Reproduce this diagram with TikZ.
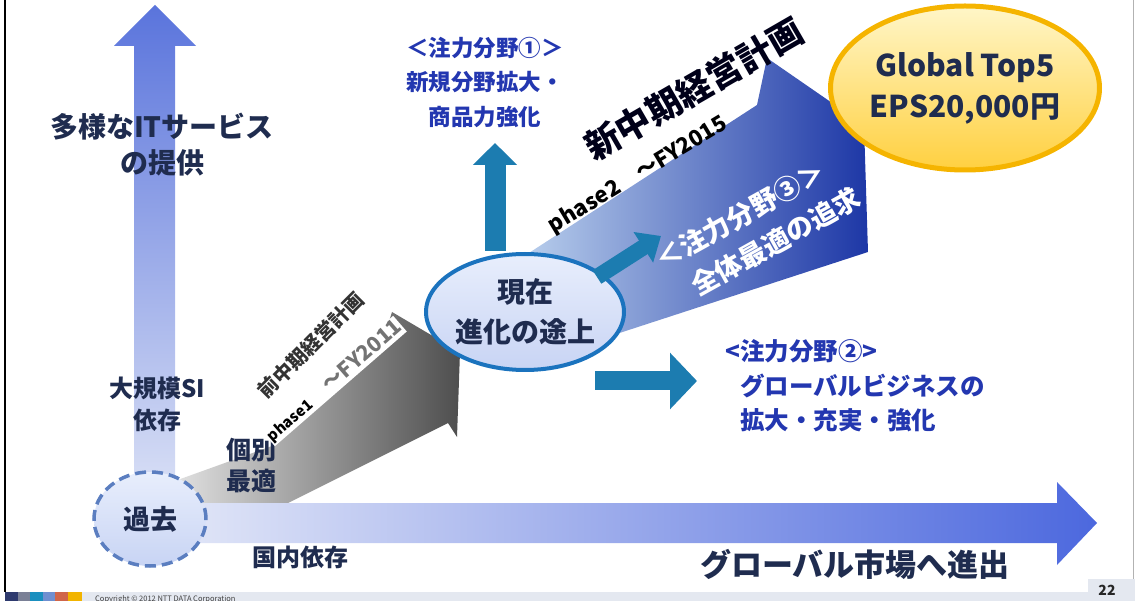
\documentclass[tikz,border=0pt]{standalone}
\usepackage{fontspec}
\setmainfont{Noto Sans CJK JP}
\usetikzlibrary{arrows.meta,shapes.geometric}
\definecolor{navy}{HTML}{1F2C4F}
\definecolor{fblue}{HTML}{2337B0}
\definecolor{tealc}{HTML}{1C7CB0}
\definecolor{vtop}{HTML}{5A74DC}
\definecolor{vbot}{HTML}{DDE3F6}
\definecolor{hL}{HTML}{E6EAF8}
\definecolor{hR}{HTML}{4C68DE}
\definecolor{gL}{HTML}{E2E2E2}
\definecolor{gM}{HTML}{A0A0A0}
\definecolor{gR}{HTML}{4E4E4E}
\definecolor{bL}{HTML}{BCD2EE}
\definecolor{bM}{HTML}{3B78C8}
\definecolor{bR}{HTML}{1D37A6}
\definecolor{pastb}{HTML}{5B7EC0}
\definecolor{nowb}{HTML}{1B73BE}
\definecolor{goldb}{HTML}{F5B400}
\definecolor{goldT}{HTML}{FFF6C8}
\definecolor{goldB}{HTML}{FFD040}
\definecolor{lightT}{HTML}{E8EEFC}
\definecolor{lightB}{HTML}{C8D4F4}
\definecolor{foot}{HTML}{E4E8F0}
\definecolor{sq1}{HTML}{2E3A6E}
\definecolor{sq2}{HTML}{7A8096}
\definecolor{sq3}{HTML}{1A8FBF}
\definecolor{sq4}{HTML}{6F8FD0}
\definecolor{sq5}{HTML}{D0664A}
\definecolor{sq6}{HTML}{F2B400}
\begin{document}
\begin{tikzpicture}[x=1pt,y=-1pt,
  txt/.style 2 args={font=\bfseries\fontsize{#1}{#2}\selectfont, inner sep=0pt, text=navy, align=center},
  tealarrow/.style={draw=tealc, line cap=butt}]
\useasboundingbox (0,0) rectangle (1135,601);

% frame lines
\draw[line width=2pt, black] (5,0) -- (5,592);
\draw[line width=0.8pt, black!30] (1133,0) -- (1133,579);

% footer
\fill[foot] (82,592) rectangle (1135,601);
\fill[foot] (1088,579) rectangle (1135,601);
\fill[sq1] (5,592) rectangle (18,601);
\fill[sq2] (18,592) rectangle (30,601);
\fill[sq3] (30,592) rectangle (43,601);
\fill[sq4] (43,592) rectangle (55,601);
\fill[sq5] (55,592) rectangle (68,601);
\fill[sq6] (68,592) rectangle (82,601);
\node[font=\fontsize{7.5}{8}\selectfont, text=black!75, anchor=west, inner sep=0pt] (copy) at (95,599) {Copyright © 2012 NTT DATA Corporation};
\node[txt={14}{14}, text=black!85] (pg) at (1107,590) {22};

% vertical axis arrow
\path[top color=vtop, bottom color=vbot] (134,510) -- (134,46) -- (114,46) -- (155,5) -- (196,46) -- (175,46) -- (175,510) -- cycle;

% phase 1 gray arrow
\path[left color=gL, middle color=gM, right color=gR] (172,482) -- (272,446) -- (382,344) -- (392,312) -- (460,352) -- (457,437) -- (448,423) -- (270,512) -- (172,512) -- cycle;

% phase 2 blue arrow
\path[left color=bL, middle color=bM, right color=bR] (515,262) -- (757,105) -- (767,58) -- (864,125) -- (868,252) -- (598,340) -- cycle;

% horizontal axis arrow
\path[left color=hL, right color=hR] (150,503) -- (1057,503) -- (1057,482) -- (1097,523) -- (1057,565) -- (1057,543) -- (150,543) -- cycle;

% ellipses
\node[ellipse, minimum width=112pt, minimum height=94pt, draw=pastb, line width=3.5pt, dash pattern=on 11pt off 6pt, top color=lightT, bottom color=lightB, txt={27}{27}] (past) at (150,519) {過去};
\node[ellipse, minimum width=156pt, minimum height=116pt, draw=nowb, line width=4pt, top color=lightT, bottom color=lightB, txt={28}{40}] (now) at (525,312) {現在\\進化の途上};
\node[ellipse, minimum width=218pt, minimum height=164pt, draw=goldb, line width=5pt, top color=goldT, bottom color=goldB, txt={30}{41}] (goal) at (965,88) {Global Top5\\EPS20,000円};

% teal arrows
\coordinate (u0) at (495,251);
\coordinate (u1) at (495,143);
\draw[tealarrow, line width=21pt, -{Triangle[length=22pt 0, width=43pt 0]}] (u0) -- (u1);
\coordinate (h0) at (595,381);
\coordinate (h1) at (697,381);
\draw[tealarrow, line width=19pt, -{Triangle[length=27pt 0, width=55pt 0]}] (h0) -- (h1);
\coordinate (d0) at (597,277);
\coordinate (d1) at (661,236);
\draw[tealarrow, line width=16pt, -{Triangle[length=21pt 0, width=35pt 0]}] (d0) -- (d1);

% texts
\node[txt={28}{36}] (svc) at (162,145) {多様なITサービス\\の提供};
\node[txt={24}{32}] (si) at (157,404) {大規模SI\\依存};
\node[txt={25}{31}] (indiv) at (251,466) {個別\\最適};
\node[txt={24}{24}] (dom) at (300,557) {国内依存};
\node[txt={31}{31}] (glob) at (855,564) {グローバル市場へ進出};

\node[txt={22.5}{34.5}, text=fblue] (f1) at (485,82) {＜注力分野①＞\\新規分野拡大・\\商品力強化};
\node[txt={24.5}{34.5}, text=fblue, align=left, anchor=west] (f2) at (725,386) {<注力分野②>\\\hspace*{15pt}グローバルビジネスの\\\hspace*{15pt}拡大・充実・強化};
\node[txt={27}{40}, text=white, rotate=29] (f3) at (750,233) {＜注力分野③＞\\\hspace*{37pt}全体最適の追求};

\node[txt={35}{35}, text=black!90!blue, rotate=30] (plan2) at (694,89) {新中期経営計画};
\node[txt={22}{22}, text=black, rotate=31] (ph2) at (638,175) {phase2　～FY2015};
\node[txt={21}{21}, text=black!55, rotate=41, fill=white, inner sep=1pt] (ph1) at (334,381) {{\color{black}\fontsize{15}{15}\selectfont phase1}\quad ～FY2011};
\node[txt={20}{20}, text=black!80, rotate=45] (plan1) at (311,345) {前中期経営計画};
\end{tikzpicture}
\end{document}
